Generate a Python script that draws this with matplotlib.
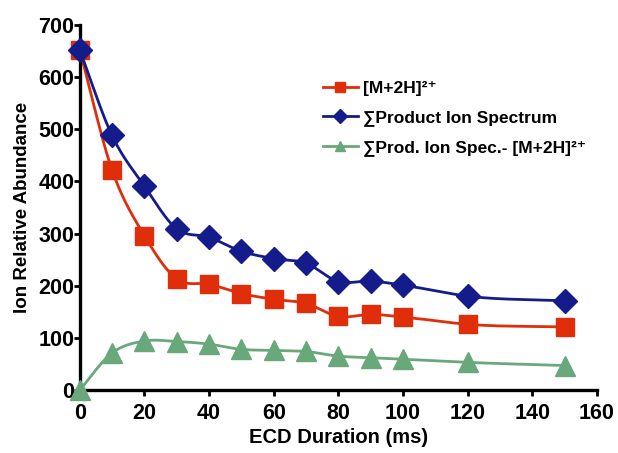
import matplotlib.pyplot as plt
import numpy as np

plt.rcParams['font.family'] = ['Liberation Sans', 'DejaVu Sans']
plt.rcParams['font.weight'] = 'bold'

# ECD duration (ms)
duration = [0, 10, 20, 30, 40, 50, 60, 70, 80, 90, 100, 120, 150]
# ion relative abundance for each series
precursor = [652, 422, 296, 213, 203, 185, 174, 166, 141, 145, 140, 126, 121]
product_sum = [652, 488, 391, 309, 293, 266, 252, 243, 208, 209, 201, 180, 171]
difference = [0, 71, 94, 93, 88, 78, 76, 74, 65, 62, 59, 53, 47]

labels = ['[M+2H]²⁺', '∑Product Ion Spectrum', '∑Prod. Ion Spec.- [M+2H]²⁺']
colors = ['#e02d0a', '#141c8c', '#69a87a']
markers = ['s', 'D', '^']
msizes = [13.5, 12, 14]


def smooth(x, y, n=30):
    # cubic hermite curve through the points (catmull-rom tangents)
    x = np.asarray(x, float)
    y = np.asarray(y, float)
    m = np.gradient(y, x)
    xs, ys = [], []
    for i in range(len(x) - 1):
        h = x[i + 1] - x[i]
        t = np.linspace(0, 1, n)
        h00 = 2 * t**3 - 3 * t**2 + 1
        h10 = t**3 - 2 * t**2 + t
        h01 = -2 * t**3 + 3 * t**2
        h11 = t**3 - t**2
        xs.append(x[i] + t * h)
        ys.append(h00 * y[i] + h10 * h * m[i] + h01 * y[i + 1] + h11 * h * m[i + 1])
    return np.concatenate(xs), np.concatenate(ys)


fig = plt.figure(figsize=(6.18, 4.53), dpi=100)
ax = fig.add_axes([0.129, 0.139, 0.837, 0.806])

for ys, lab, c, mk, ms in zip([precursor, product_sum, difference], labels, colors, markers, msizes):
    sx, sy = smooth(duration, ys)
    ax.plot(sx, sy, color=c, lw=2, clip_on=False)
    ax.plot(duration, ys, ls='none', marker=mk, ms=ms, color=c, clip_on=False, zorder=3)
    ax.plot([], [], color=c, lw=2, marker=mk, ms=7.5, label=lab)

ax.set_xlim(0, 160)
ax.set_ylim(0, 700)
ax.set_xticks(range(0, 161, 20))
ax.set_yticks(range(0, 701, 100))
for s in ['top', 'right']:
    ax.spines[s].set_visible(False)
for s in ['left', 'bottom']:
    ax.spines[s].set_linewidth(2.4)
ax.tick_params(width=2, length=4, labelsize=15.5)
ax.tick_params(axis='x', pad=5)
ax.tick_params(axis='y', pad=0)
ax.set_xlabel('ECD Duration (ms)', fontsize=14.5, fontweight='bold', labelpad=3)
ax.set_ylabel('Ion Relative Abundance', fontsize=13.5, fontweight='bold', labelpad=5)

leg = ax.legend(loc='upper left', bbox_to_anchor=(0.44, 0.89), frameon=False,
                fontsize=12.5, handlelength=2.0, labelspacing=0.8, handletextpad=0.3)
for t in leg.get_texts():
    t.set_fontweight('bold')

fig.savefig('out.png', dpi=100)
